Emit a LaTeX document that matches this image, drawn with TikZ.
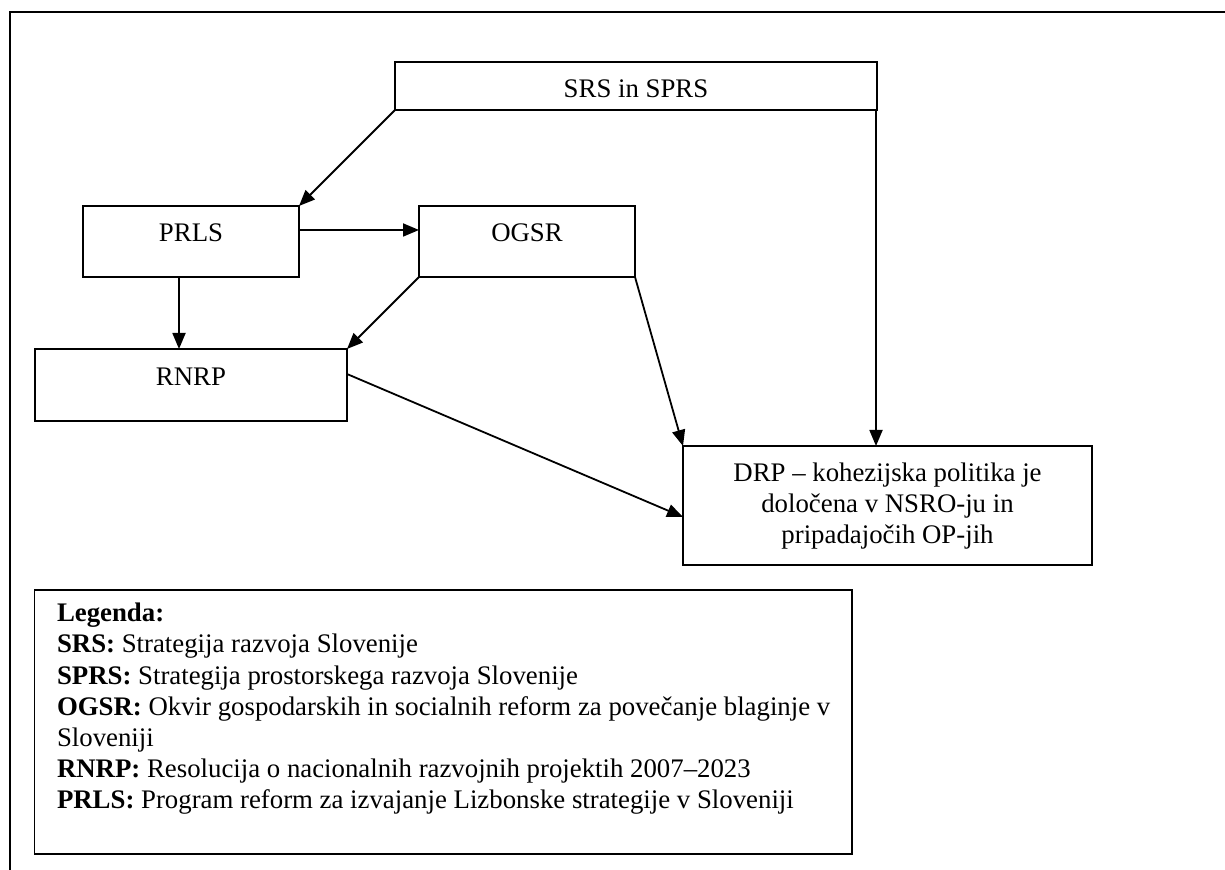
\documentclass[tikz,border=0pt]{standalone}
\usepackage{fontspec}
\setmainfont{Liberation Serif}
\usetikzlibrary{arrows.meta}
\begin{document}
\begin{tikzpicture}[x=0.5pt,y=-0.5pt,
  box/.style={draw, line width=0.9pt, outer sep=0pt, inner sep=0pt},
  txt/.style={anchor=base, inner sep=0pt, font=\fontsize{13.4pt}{15.5pt}\selectfont},
  legtxt/.style={anchor=base west, inner sep=0pt, font=\fontsize{13.4pt}{15.5pt}\selectfont},
  arr/.style={-{Triangle[length=8pt,width=6.5pt]}, line width=0.9pt}]
\useasboundingbox (0,0) rectangle (1225,870);
\draw[line width=1pt] (1225,12.5) -- (10,12.5) -- (10,870);
% boxes
\node[box, minimum width=241pt, minimum height=24pt] (srs) at (636,86) {};
\node[box, minimum width=108pt, minimum height=35.5pt] (prls) at (191,241.5) {};
\node[box, minimum width=108pt, minimum height=35.5pt] (ogsr) at (527,241.5) {};
\node[box, minimum width=156pt, minimum height=36pt] (rnrp) at (191,385) {};
\node[box, minimum width=204.5pt, minimum height=59.5pt] (drp) at (887.5,505.5) {};
\node[box, minimum width=408.75pt, minimum height=132pt] (leg) at (443.25,722) {};
% texts
\node[txt] (srst) at (636,98) {SRS in SPRS};
\node[txt] (prlst) at (191,242) {PRLS};
\node[txt] (ogsrt) at (527,242) {OGSR};
\node[txt] (rnrpt) at (191,386) {RNRP};
\node[txt] (drp1) at (887.5,482) {DRP -- kohezijska politika je};
\node[txt] (drp2) at (887.5,513) {določena v NSRO-ju in};
\node[txt] (drp3) at (887.5,543.5) {pripadajočih OP-jih};
\node[legtxt] (l1) at (56.6,622) {\textbf{Legenda:}};
\node[legtxt] (l2) at (56.6,653) {\textbf{SRS:} Strategija razvoja Slovenije};
\node[legtxt] (l3) at (56.6,684) {\textbf{SPRS:} Strategija prostorskega razvoja Slovenije};
\node[legtxt] (l4) at (56.6,715) {\textbf{OGSR:} Okvir gospodarskih in socialnih reform za povečanje blaginje v};
\node[legtxt] (l5) at (56.6,746) {Sloveniji};
\node[legtxt] (l6) at (56.6,777) {\textbf{RNRP:} Resolucija o nacionalnih razvojnih projektih 2007--2023};
\node[legtxt] (l7) at (56.6,808) {\textbf{PRLS:} Program reform za izvajanje Lizbonske strategije v Sloveniji};
% connectors
\draw[arr] (srs.south west) -- (prls.north east);
\draw[arr] ([yshift=5.75pt]prls.east) -- ([yshift=5.75pt]ogsr.west);
\draw[arr] ([xshift=-6pt]prls.south) -- ([xshift=-6pt]prls.south |- rnrp.north);
\draw[arr] (ogsr.south west) -- (rnrp.north east);
\draw[arr] (ogsr.south east) -- (drp.north west);
\draw[arr] ([xshift=-0.5pt]srs.south east) -- ([xshift=-0.5pt]srs.south east |- drp.north);
\draw[arr] ([yshift=5.5pt]rnrp.east) -- ([yshift=-5.75pt]drp.west);
\end{tikzpicture}
\end{document}
